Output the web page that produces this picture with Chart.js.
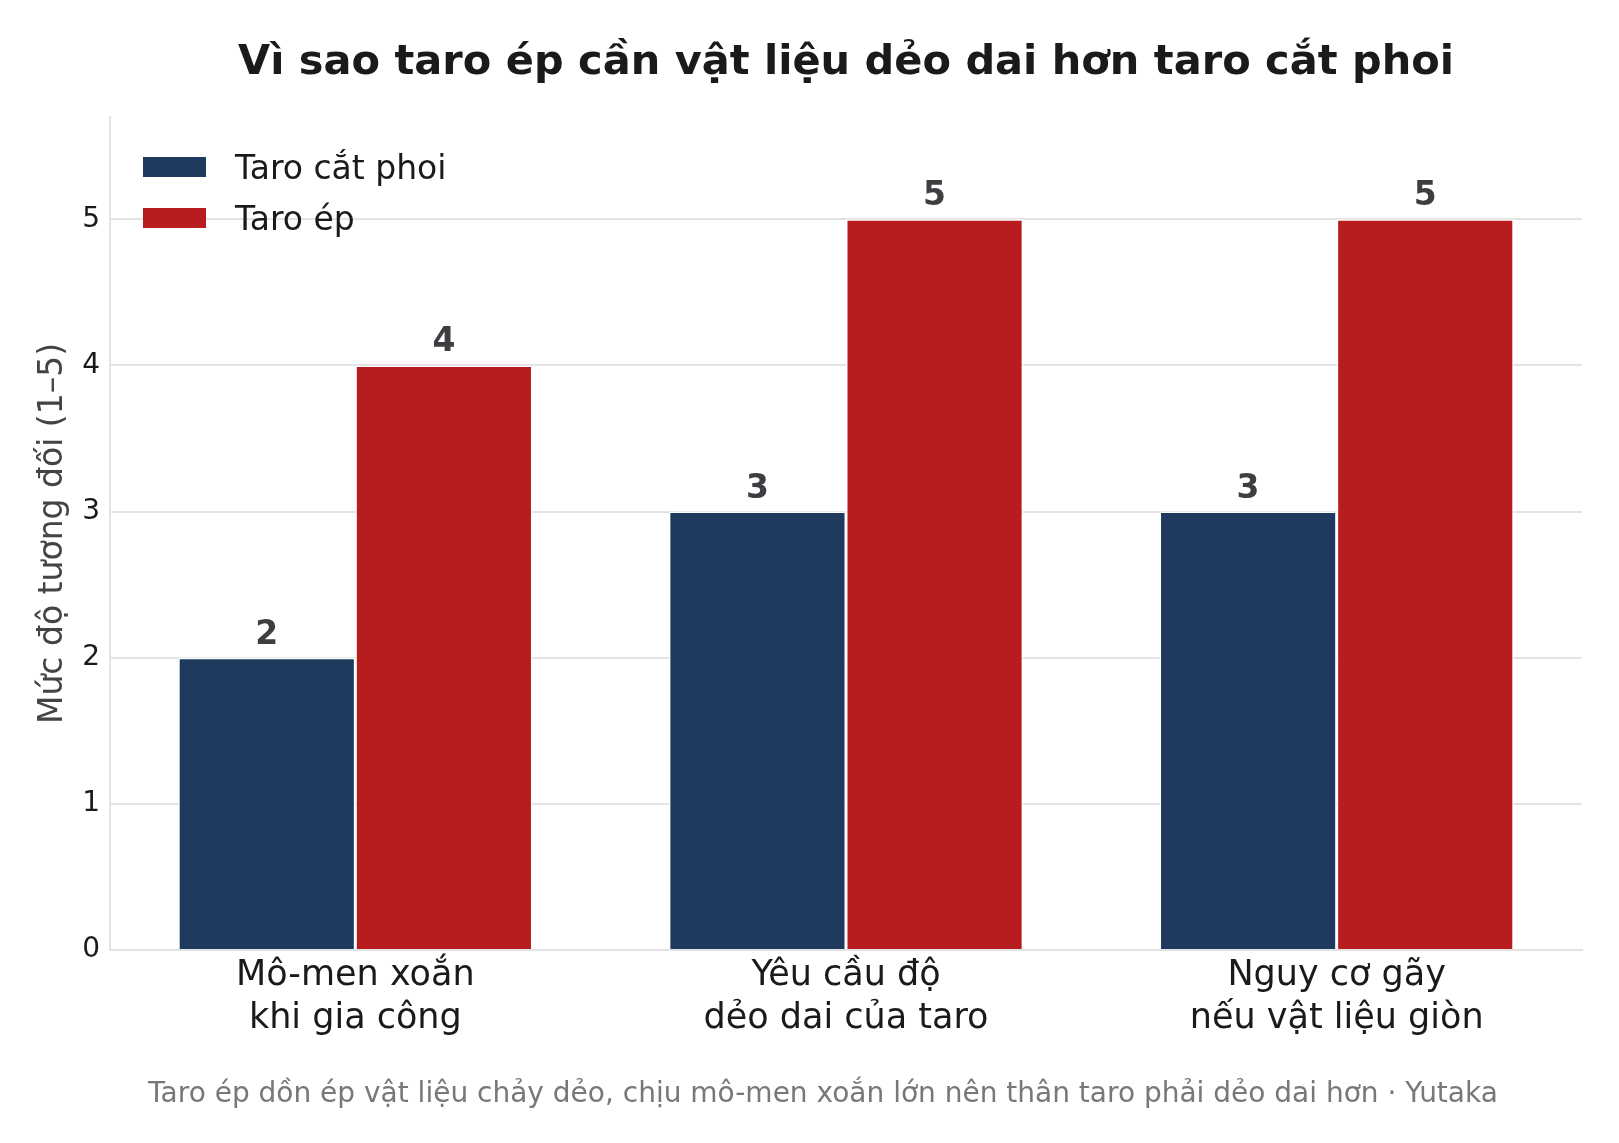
<!DOCTYPE html>
<html lang="vi">
<head>
<meta charset="utf-8">
<title>Taro ép vs taro cắt phoi</title>
<script src="https://cdn.jsdelivr.net/npm/chart.js@4.4.1/dist/chart.umd.min.js"></script>
<style>
    html, body { margin: 0; padding: 0; background: #fff; }
    #wrap { width: 1619px; height: 1143px; }
</style>
</head>
<body>
<div id="wrap"><canvas id="chart" width="1619" height="1143"></canvas></div>
<script>
// --- Data ---
const categories = [
    ['Mô-men xoắn', 'khi gia công'],
    ['Yêu cầu độ', 'dẻo dai của taro'],
    ['Nguy cơ gãy', 'nếu vật liệu giòn']
];
const seriesNames = ['Taro cắt phoi', 'Taro ép'];
const cutTapValues = [2, 3, 3];
const formTapValues = [4, 5, 5];
const yTicks = [0, 1, 2, 3, 4, 5];

const titleText = 'Vì sao taro ép cần vật liệu dẻo dai hơn taro cắt phoi';
const yTitleText = 'Mức độ tương đối (1–5)';
const footerText = 'Taro ép dồn ép vật liệu chảy dẻo, chịu mô-men xoắn lớn nên thân taro phải dẻo dai hơn · Yutaka';

const FONT = "'DejaVu Sans', 'Noto Sans', sans-serif";
const BLUE = '#1f3a5f';
const RED = '#b71c1e';
const GRID = '#e3e3e3';

// title + footer drawn straight on the canvas
const textPlugin = {
    id: 'textPlugin',
    afterDraw(chart) {
        const ctx = chart.ctx;
        const area = chart.chartArea;
        ctx.save();
        ctx.textAlign = 'center';
        ctx.textBaseline = 'middle';
        ctx.fillStyle = '#1a1a1a';
        ctx.font = 'bold 41.5px ' + FONT;
        ctx.fillText(titleText, (area.left + area.right) / 2, 63);
        ctx.fillStyle = '#77777c';
        ctx.font = '28px ' + FONT;
        ctx.fillText(footerText, 823, 1095);
        ctx.restore();
    }
};

// legend in the top-left corner of the plot
const insideLegend = {
    id: 'insideLegend',
    afterDraw(chart) {
        const ctx = chart.ctx;
        const area = chart.chartArea;
        ctx.save();
        ctx.font = '33px ' + FONT;
        ctx.textBaseline = 'middle';
        ctx.textAlign = 'left';
        chart.data.datasets.forEach((ds, i) => {
            const top = area.top + 40 + i * 51;
            ctx.fillStyle = ds.backgroundColor;
            ctx.fillRect(area.left + 33, top, 63, 20);
            ctx.fillStyle = '#1a1a1a';
            ctx.fillText(ds.label, area.left + 125, top + 13);
        });
        ctx.restore();
    }
};

// value labels above bars
const valueLabels = {
    id: 'valueLabels',
    afterDatasetsDraw(chart) {
        const ctx = chart.ctx;
        ctx.save();
        ctx.font = 'bold 33px ' + FONT;
        ctx.fillStyle = '#3d3d42';
        ctx.textAlign = 'center';
        ctx.textBaseline = 'alphabetic';
        chart.data.datasets.forEach((ds, i) => {
            chart.getDatasetMeta(i).data.forEach((bar, j) => {
                ctx.fillText(String(ds.data[j]), bar.x, bar.y - 14);
            });
        });
        ctx.restore();
    }
};

new Chart(document.getElementById('chart'), {
    type: 'bar',
    data: {
        labels: categories,
        datasets: [
            {
                label: seriesNames[0],
                data: cutTapValues,
                backgroundColor: BLUE,
                borderColor: '#ffffff',
                borderWidth: 1.5,
                borderSkipped: 'start'
            },
            {
                label: seriesNames[1],
                data: formTapValues,
                backgroundColor: RED,
                borderColor: '#ffffff',
                borderWidth: 1.5,
                borderSkipped: 'start'
            }
        ]
    },
    options: {
        responsive: false,
        animation: false,
        devicePixelRatio: 1,
        layout: { padding: { top: 117, right: 37, bottom: 0, left: 0 } },
        datasets: {
            bar: { categoryPercentage: 0.722, barPercentage: 1.0 }
        },
        scales: {
            x: {
                grid: { display: false, drawTicks: false },
                border: { display: true, color: GRID, width: 2 },
                ticks: {
                    color: '#1a1a1a',
                    padding: 5,
                    maxRotation: 0,
                    font: { family: FONT, size: 35, lineHeight: 1.21 }
                },
                afterFit(scale) { scale.height = 193; }
            },
            y: {
                min: 0,
                max: 5.7,
                afterBuildTicks(scale) {
                    scale.ticks = yTicks.map(v => ({ value: v }));
                },
                grid: { color: GRID, lineWidth: 2, drawTicks: false },
                border: { display: true, color: GRID, width: 2 },
                ticks: {
                    color: '#1a1a1a',
                    padding: 10,
                    font: { family: FONT, size: 28 }
                },
                title: {
                    display: true,
                    text: yTitleText,
                    color: '#444444',
                    padding: { top: 34, bottom: 0 },
                    font: { family: FONT, size: 33, lineHeight: 1.2 }
                },
                afterFit(scale) { scale.width = 110; }
            }
        },
        plugins: {
            legend: { display: false },
            tooltip: { enabled: false },
            title: { display: false }
        }
    },
    plugins: [valueLabels, insideLegend, textPlugin]
});
</script>
</body>
</html>
